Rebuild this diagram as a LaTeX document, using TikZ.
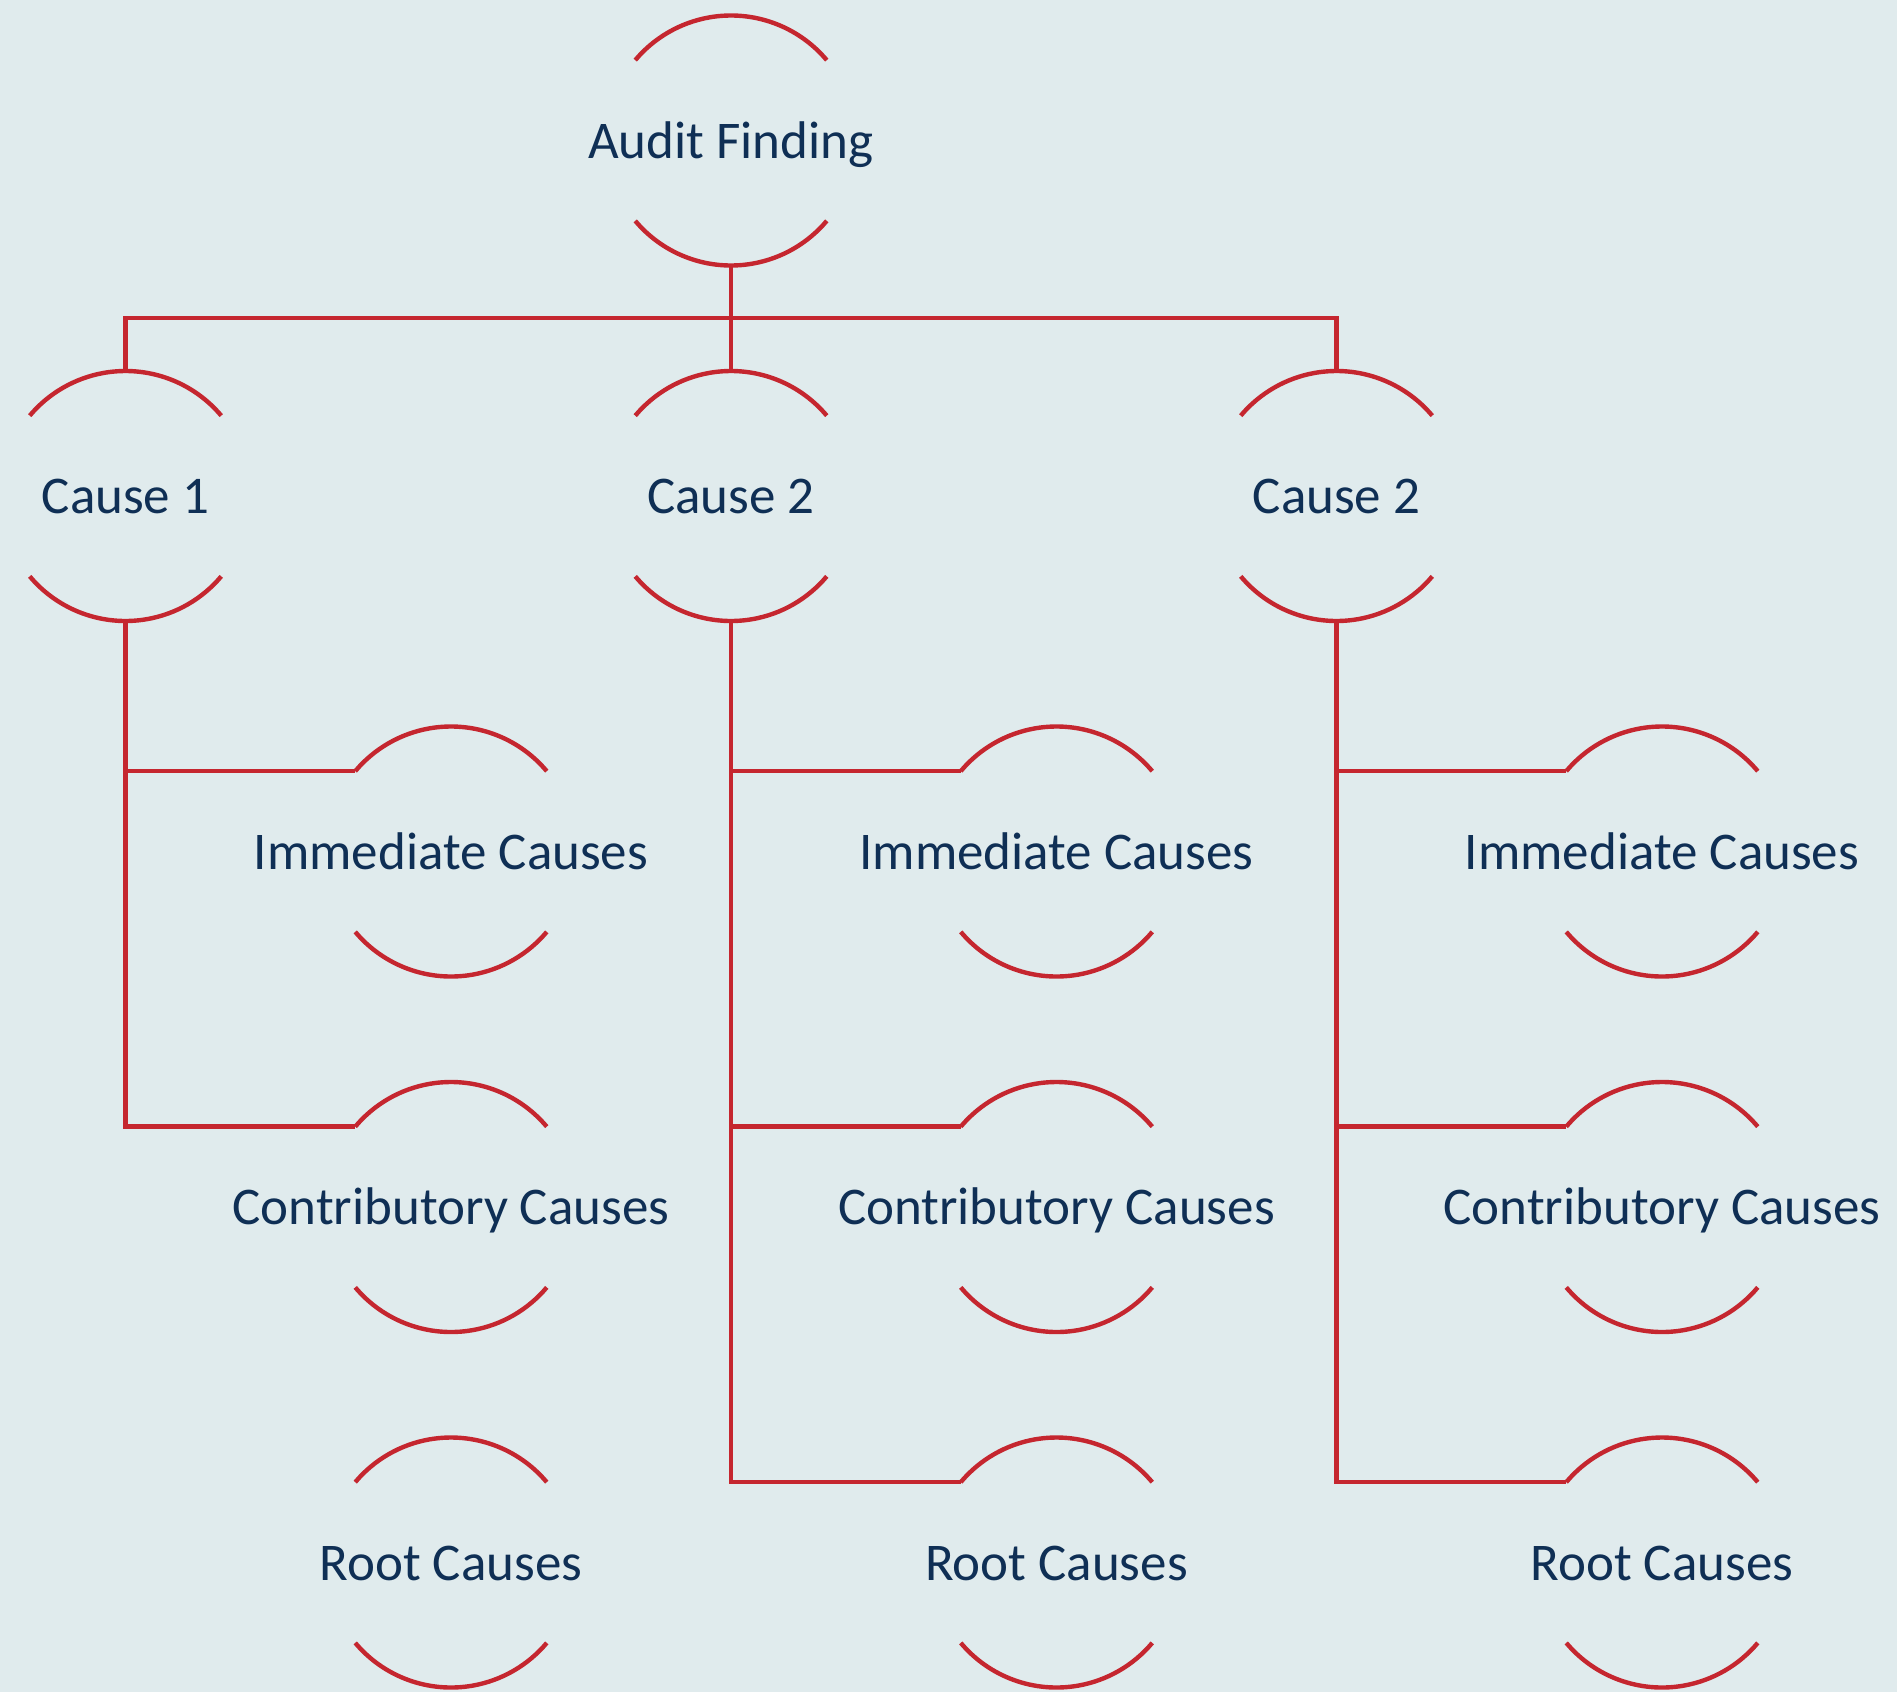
\documentclass[tikz,border=0pt]{standalone}
\usepackage{fontspec}
\setmainfont{Carlito}
\definecolor{paper}{HTML}{E0EBED}
\definecolor{linkred}{HTML}{C5262F}
\definecolor{inknavy}{HTML}{0F2F55}
\tikzset{
  cnode/.style={circle, minimum size=250pt, inner sep=0pt, outer sep=0pt},
  ctext/.style={inner sep=0pt, text height=35pt, text depth=0pt,
    font=\fontsize{53}{64}\selectfont, text=inknavy},
  link/.style={draw=linkred, line width=4.4pt},
}
% a node drawn as two facing arcs with its text between them
\newcommand{\arcnode}[3]{%
  \node[cnode, label={[ctext, name=#1-t]center:#3}] (#1) at (#2) {};
  \draw[link] (#1.40) arc[start angle=40, end angle=140, radius=125pt];
  \draw[link] (#1.220) arc[start angle=220, end angle=320, radius=125pt];
}
\begin{document}
\begin{tikzpicture}[x=1pt, y=-1pt]
  \fill[paper] (0,0) rectangle (1897,1692);
  \useasboundingbox (0,0) rectangle (1897,1692);

  \arcnode{af}{731,140.5}{Audit Finding}

  \arcnode{c1}{125.5,496}{Cause 1}
  \arcnode{c2}{731,496}{Cause 2}
  \arcnode{c3}{1336.5,496}{Cause 2}

  \foreach \k/\x in {1/451, 2/1056.5, 3/1662} {
    \arcnode{i\k}{\x,851.5}{Immediate Causes}
    \arcnode{k\k}{\x,1207}{Contributory Causes}
    \arcnode{r\k}{\x,1562.5}{Root Causes}
  }

  % bus from the finding to its causes
  \coordinate (bus) at (731,318);
  \draw[link] (c1.north) |- (bus) -| (c3.north);
  \draw[link] (af.south) -- (c2.north);

  % branches from each cause to its cause levels
  \draw[link] (c1.south) |- (i1.140);
  \draw[link] (c1.south) |- (k1.140);
  \foreach \k in {2,3} {
    \draw[link] (c\k.south) |- (i\k.140);
    \draw[link] (c\k.south) |- (k\k.140);
    \draw[link] (c\k.south) |- (r\k.140);
  }
\end{tikzpicture}
\end{document}
